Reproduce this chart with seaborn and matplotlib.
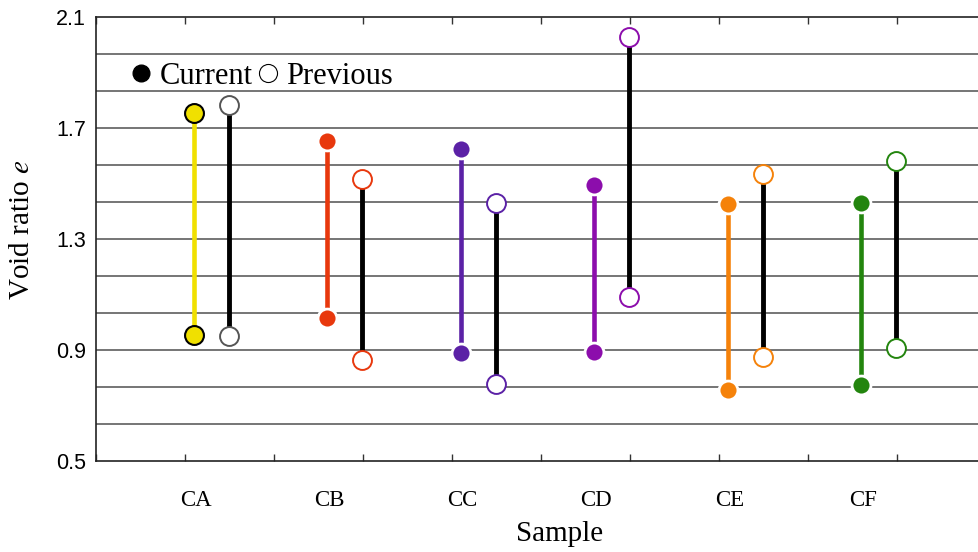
import numpy as np
import pandas as pd
import matplotlib.pyplot as plt
import seaborn as sns
from matplotlib.lines import Line2D
from matplotlib.ticker import MultipleLocator

# 数据：每个样本当前/之前的孔隙比范围
samples = ['CA', 'CB', 'CC', 'CD', 'CE', 'CF']
current_low = [0.954, 1.015, 0.889, 0.893, 0.756, 0.774]
current_high = [1.754, 1.653, 1.624, 1.495, 1.426, 1.430]
previous_low = [0.950, 0.864, 0.777, 1.091, 0.875, 0.907]
previous_high = [1.783, 1.516, 1.430, 2.028, 1.534, 1.581]
colors = ['#f0e000', '#e8380d', '#5b21a6', '#8c0dac', '#f5820a', '#23850e']

sns.set_style('white')
plt.rcParams['font.family'] = ['Liberation Serif', 'DejaVu Serif']
plt.rcParams['mathtext.fontset'] = 'stix'
plt.rcParams['text.color'] = 'black'
plt.rcParams['axes.labelcolor'] = 'black'
plt.rcParams['xtick.labelcolor'] = 'black'
plt.rcParams['ytick.labelcolor'] = 'black'

fig = plt.figure(figsize=(9.79, 5.52), dpi=100)
ax = fig.add_axes([0.098, 0.165, 0.902, 0.804])

# 横坐标位置
x_cur = 1.1 + 1.5 * np.arange(len(samples))
x_prev = x_cur + 0.39

# 网格线
for y in np.linspace(0.5, 2.1, 13)[1:-1]:
    ax.axhline(y, color='#505050', lw=1.1, zorder=0)

for i, s in enumerate(samples):
    col = colors[i]
    # 当前：彩色竖线 + 实心点
    ax.vlines(x_cur[i], current_low[i], current_high[i], color=col, lw=3.3, zorder=2)
    edge = 'black' if s == 'CA' else 'white'
    sns.scatterplot(x=[x_cur[i], x_cur[i]], y=[current_low[i], current_high[i]],
                    color=col, edgecolor=edge, linewidth=1.5 if s == 'CA' else 2,
                    s=185, ax=ax, zorder=3)
    # 之前：黑色竖线 + 空心点
    ax.vlines(x_prev[i], previous_low[i], previous_high[i], color='black', lw=3.5, zorder=2)
    pedge = '#555555' if s == 'CA' else col
    sns.scatterplot(x=[x_prev[i], x_prev[i]], y=[previous_low[i], previous_high[i]],
                    color='white', edgecolor=pedge, linewidth=1.4,
                    s=185, ax=ax, zorder=3)

ax.set_xlim(0, 9.92)
ax.set_ylim(0.5, 2.1)

# y 轴刻度
ax.set_yticks([0.5, 0.9, 1.3, 1.7, 2.1])
ax.set_yticklabels(['0.5', '0.9', '1.3', '1.7', '2.1'], family='Liberation Sans', fontsize=15.5)
ax.yaxis.set_minor_locator(MultipleLocator(0.4 / 6))
ax.tick_params(axis='y', which='both', direction='in', length=5, width=1, color='#333333',
               labelcolor='black', pad=7)

# x 轴刻度
ax.set_xticks(x_cur + 0.02)
ax.set_xticklabels(samples, fontsize=16.5)
ax.xaxis.set_minor_locator(MultipleLocator(1))
ax.tick_params(axis='x', which='major', length=0, pad=21, labelcolor='black')
ax.tick_params(axis='x', which='minor', direction='in', length=5, width=1,
               color='#333333', top=True, bottom=True)

for side in ['left', 'bottom', 'top']:
    ax.spines[side].set_color('#222222')
    ax.spines[side].set_linewidth(1.2)
ax.spines['right'].set_visible(False)

ax.set_xlabel('Sample', fontsize=21, color='black')
ax.xaxis.set_label_coords(0.525, -0.135)
ax.set_ylabel('Void ratio $e$', fontsize=21, color='black')
ax.yaxis.set_label_coords(-0.069, 0.52)

handles = [Line2D([], [], marker='o', ls='none', color='black', markersize=12),
           Line2D([], [], marker='o', ls='none', markerfacecolor='white',
                  markeredgecolor='black', markeredgewidth=0.8, markersize=13)]
ax.legend(handles, ['Current', 'Previous'], loc='center left', bbox_to_anchor=(0.02, 0.866),
          ncol=2, frameon=False, fontsize=22, handletextpad=0.2, columnspacing=0.1,
          handlelength=0.8, borderpad=0, labelcolor='black')

fig.savefig('out.png', dpi=100)
